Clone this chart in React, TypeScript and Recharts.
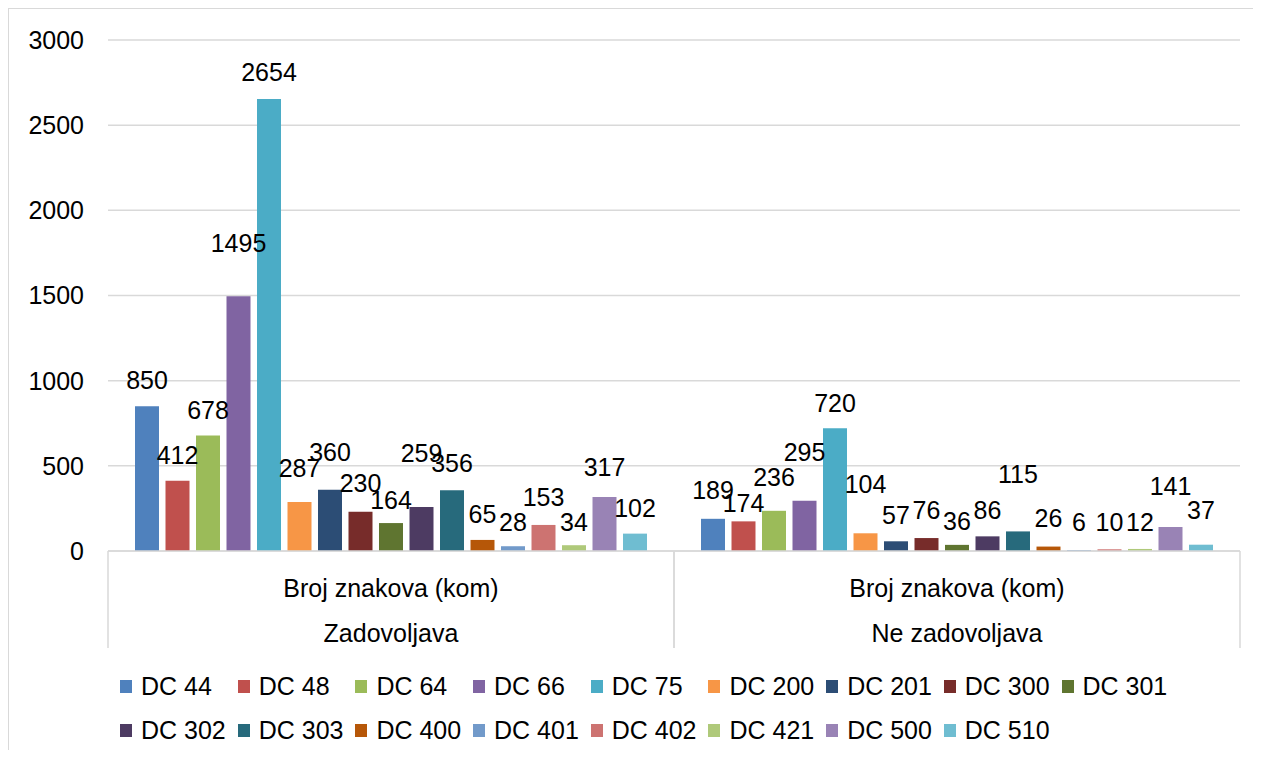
import React from 'react';
import { BarChart, Bar, XAxis, YAxis, CartesianGrid, Legend, LabelList } from 'recharts';

const groups = ['Zadovoljava', 'Ne zadovoljava'];
const measure = 'Broj znakova (kom)';
const series = [
  'DC 44', 'DC 48', 'DC 64', 'DC 66', 'DC 75', 'DC 200', 'DC 201', 'DC 300', 'DC 301',
  'DC 302', 'DC 303', 'DC 400', 'DC 401', 'DC 402', 'DC 421', 'DC 500', 'DC 510',
];
const zadovoljava = [850, 412, 678, 1495, 2654, 287, 360, 230, 164, 259, 356, 65, 28, 153, 34, 317, 102];
const neZadovoljava = [189, 174, 236, 295, 720, 104, 57, 76, 36, 86, 115, 26, 6, 10, 12, 141, 37];
const colors = [
  '#4F81BD', '#C0504D', '#9BBB59', '#8064A2', '#4BACC6', '#F79646', '#2C4D75', '#772C2A', '#5F7530',
  '#4D3B62', '#276A7C', '#B65708', '#729ACA', '#CD7371', '#AFC97A', '#9983B5', '#6FBDD1',
];
const yTicks = [0, 500, 1000, 1500, 2000, 2500, 3000];

// extra lift (px) of some data labels, as Excel moved them apart
const liftZad = [0, 0, 0, 27, 1, 8, 12, 3, -3, 28, 1, 0, -2, 2, -3, 4, 0];
const liftNe = [3, -8, 8, 23, -1, 23, 0, 2, -2, 0, 31, 3, 2, 1, 1, 15, 9];

const data = groups.map((g, gi) => {
  const row: Record<string, string | number> = { group: g, measure };
  series.forEach((s, i) => {
    row[s] = gi === 0 ? zadovoljava[i] : neZadovoljava[i];
  });
  return row;
});

const font = '"Liberation Sans", Arial, sans-serif';
const gridColor = '#d9d9d9';

// upper category row, also draws the table dividers
const MeasureTick = (props: any) => {
  const { x, y, payload } = props;
  const half = payload.offset;
  return (
    <g>
      <line x1={x - half} y1={y} x2={x - half} y2={y + 97} stroke={gridColor} strokeWidth={1.5} />
      <line x1={x + half} y1={y} x2={x + half} y2={y + 97} stroke={gridColor} strokeWidth={1.5} />
      <text x={x} y={y + 46} textAnchor="middle" fontSize={25} fontFamily={font} fill="#000">
        {payload.value}
      </text>
    </g>
  );
};

const GroupTick = (props: any) => {
  const { x, y, payload } = props;
  return (
    <text x={x} y={y + 43} textAnchor="middle" fontSize={25} fontFamily={font} fill="#000">
      {payload.value}
    </text>
  );
};

const makeLabel = (si: number) => (props: any) => {
  const vb = props.viewBox || {};
  const x = props.x ?? vb.x;
  const y = props.y ?? vb.y;
  const width = props.width ?? vb.width;
  const lift = (props.index === 0 ? liftZad : liftNe)[si] || 0;
  return (
    <text x={x + width / 2} y={y - 17 - lift} textAnchor="middle" fontSize={25} fontFamily={font} fill="#000">
      {props.value}
    </text>
  );
};

const renderLegend = () => {
  const rows = [series.slice(0, 9), series.slice(9)];
  return (
    <div style={{ fontFamily: font, fontSize: 25, color: '#000' }}>
      {rows.map((row, ri) => (
        <div key={ri} style={{ display: 'flex', height: 44, alignItems: 'center' }}>
          {row.map((name) => (
            <div key={name} style={{ width: 117.7, display: 'flex', alignItems: 'center', whiteSpace: 'nowrap' }}>
              <span
                style={{
                  width: 12,
                  height: 13,
                  background: colors[series.indexOf(name)],
                  marginRight: 9,
                  display: 'inline-block',
                  flexShrink: 0,
                }}
              />
              <span>{name}</span>
            </div>
          ))}
        </div>
      ))}
    </div>
  );
};

export default function App() {
  return (
    <div
      style={{
        position: 'relative',
        width: 1252,
        height: 741,
        borderTop: `1px solid ${gridColor}`,
        borderLeft: `1px solid ${gridColor}`,
        background: '#fff',
      }}
    >
      <BarChart
        width={1252}
        height={741}
        data={data}
        margin={{ top: 31, right: 21, left: 0, bottom: 101 }}
        barSize={24}
        barGap={6.5}
      >
        <CartesianGrid horizontal vertical={false} stroke={gridColor} strokeWidth={1.5} />
        <XAxis
          xAxisId={0}
          dataKey="measure"
          height={48}
          axisLine={{ stroke: gridColor, strokeWidth: 1.5 }}
          tickLine={false}
          tickSize={0}
          tickMargin={0}
          tick={<MeasureTick />}
          interval={0}
        />
        <XAxis
          xAxisId={1}
          dataKey="group"
          height={50}
          axisLine={false}
          tickLine={false}
          tickSize={0}
          tickMargin={0}
          tick={<GroupTick />}
          interval={0}
        />
        <YAxis
          width={99}
          domain={[0, 3000]}
          ticks={yTicks}
          axisLine={false}
          tickLine={false}
          tickSize={0}
          tickMargin={24}
          tick={{ fill: '#000', fontSize: 25, fontFamily: font }}
        />
        <Legend
          layout="horizontal"
          verticalAlign="middle"
          align="center"
          content={renderLegend}
          wrapperStyle={{ left: 111, top: 655, width: 1100 }}
        />
        {series.map((s, i) => (
          <Bar key={s} xAxisId={0} dataKey={s} fill={colors[i]} isAnimationActive={false}>
            <LabelList dataKey={s} content={makeLabel(i)} />
          </Bar>
        ))}
      </BarChart>
    </div>
  );
}
